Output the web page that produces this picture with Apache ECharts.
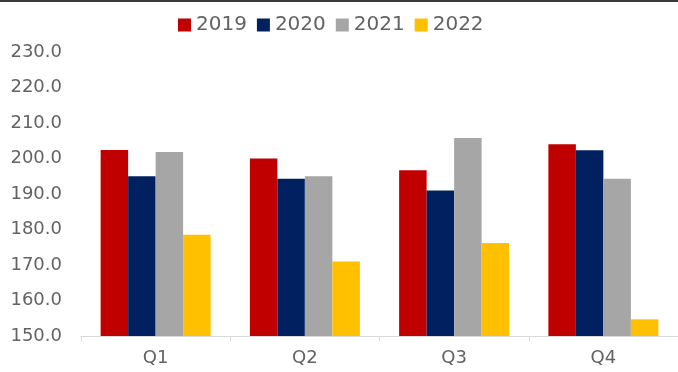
<!DOCTYPE html>
<html>
<head>
<meta charset="utf-8">
<script src="https://cdn.jsdelivr.net/npm/echarts@6/dist/echarts.min.js"></script>
<style>html,body{margin:0;padding:0;background:#fff;}#c{width:678px;height:372px;}</style>
</head>
<body>
<div id="c"></div>
<script>
const categories = ['Q1', 'Q2', 'Q3', 'Q4'];
const seriesNames = ['2019', '2020', '2021', '2022'];
const v2019 = [202.4, 200.0, 196.7, 204.0];
const v2020 = [195.0, 194.3, 191.0, 202.3];
const v2021 = [201.8, 195.0, 205.8, 194.3];
const v2022 = [178.5, 171.0, 176.2, 154.7];
const yTicks = { min: 150, max: 230, interval: 10 };
const colors = ['#C00000', '#002060', '#A6A6A6', '#FFC000'];

const chart = echarts.init(document.getElementById('c'), null, { renderer: 'canvas' });
const allValues = [v2019, v2020, v2021, v2022];
chart.setOption({
  animation: false,
  backgroundColor: '#ffffff',
  textStyle: { fontFamily: 'DejaVu Sans' },
  graphic: [{ type: 'rect', shape: { x: 0, y: 0, width: 678, height: 2 }, style: { fill: '#3a3a3a' } }],
  legend: {
    left: 178, top: 15, padding: 0,
    itemWidth: 13, itemHeight: 13, itemGap: 10,
    icon: 'rect',
    textStyle: { fontSize: 20, color: '#636363', fontFamily: 'DejaVu Sans' },
    data: seriesNames
  },
  grid: { left: 81, top: 52, width: 600, height: 284 },
  xAxis: {
    type: 'category',
    data: categories,
    axisLine: { lineStyle: { color: '#d9d9d9', width: 1 } },
    axisTick: { show: true, length: 5, lineStyle: { color: '#d9d9d9' } },
    axisLabel: { fontSize: 18, color: '#636363', margin: 13 }
  },
  yAxis: {
    type: 'value',
    min: yTicks.min, max: yTicks.max, interval: yTicks.interval,
    axisLine: { show: false },
    axisTick: { show: false },
    splitLine: { show: false },
    axisLabel: { fontSize: 18, color: '#636363', margin: 19, formatter: v => v.toFixed(1) }
  },
  series: seriesNames.map((n, i) => ({
    name: n,
    type: 'bar',
    data: allValues[i],
    barWidth: 27.5,
    barGap: '0%',
    itemStyle: { color: colors[i] }
  }))
});
</script>
</body>
</html>
